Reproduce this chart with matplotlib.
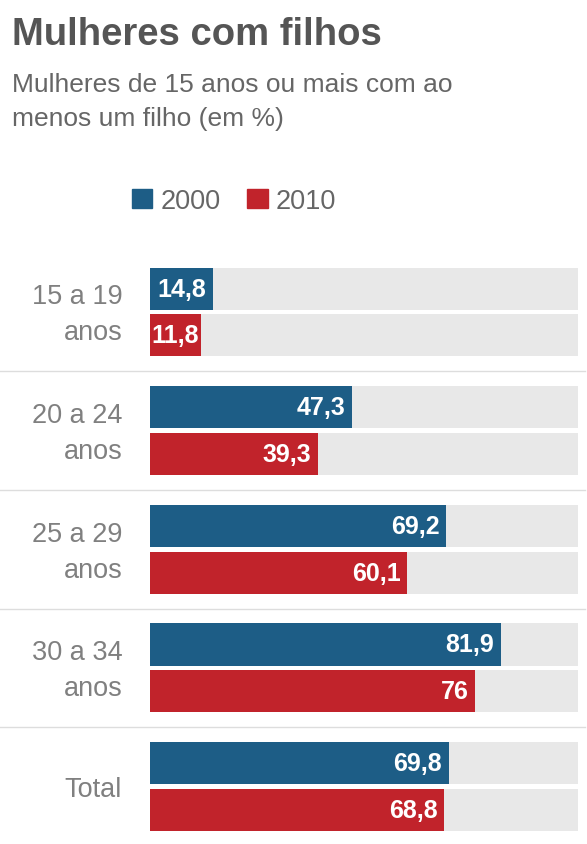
import numpy as np
import matplotlib
matplotlib.use("Agg")
import matplotlib.pyplot as plt
from matplotlib.patches import Patch

plt.rcParams['font.family'] = ['Liberation Sans', 'DejaVu Sans']

categories = ['15 a 19\nanos', '20 a 24\nanos', '25 a 29\nanos', '30 a 34\nanos', 'Total']
values_2000 = [14.8, 47.3, 69.2, 81.9, 69.8]
values_2010 = [11.8, 39.3, 60.1, 76.0, 68.8]
labels_2000 = ['14,8', '47,3', '69,2', '81,9', '69,8']
labels_2010 = ['11,8', '39,3', '60,1', '76', '68,8']
series = ['2000', '2010']

blue = '#1d5d86'
red = '#c1232b'
bg = '#e8e8e8'
grey_text = '#808080'

W, H = 587, 845
fig = plt.figure(figsize=(W / 100, H / 100), dpi=100)
ax = fig.add_axes([150 / W, 0, 428 / W, 593 / H])

y = np.arange(len(categories))
off = 0.197
bh = 0.355

ax.barh(y - off, [100] * len(y), height=bh, color=bg, zorder=1)
ax.barh(y + off, [100] * len(y), height=bh, color=bg, zorder=1)
ax.barh(y - off, values_2000, height=bh, color=blue, zorder=2)
ax.barh(y + off, values_2010, height=bh, color=red, zorder=2)

pad = 1.6
for i in range(len(y)):
    ax.text(values_2000[i] - pad, y[i] - off, labels_2000[i], ha='right', va='center',
            color='white', fontsize=18, fontweight='bold', zorder=3)
    ax.text(values_2010[i] - (0.4 if values_2010[i] < 15 else pad), y[i] + off, labels_2010[i],
            ha='right', va='center', color='white', fontsize=18, fontweight='bold', zorder=3)
    ax.text(-6.5, y[i] + 0.02, categories[i], ha='right', va='center', multialignment='right',
            color=grey_text, fontsize=19.5, linespacing=1.5, clip_on=False)

# separators between groups
tr = ax.get_yaxis_transform()
for s in y[:-1] + 0.5:
    ax.plot([-150 / 428, 585 / 428 - 150 / 428], [s, s], transform=tr, color='#dddddd',
            lw=1, clip_on=False, zorder=0)
ax.axvline(-0.5, color='#dddddd', lw=1, zorder=0)

ax.set_xlim(0, 100)
ax.set_ylim(len(y) - 1 + 0.485, -0.514)
ax.axis('off')

fig.text(12 / W, 1 - 45 / H, 'Mulheres com filhos', fontsize=27.5, fontweight='bold',
         color='#555555', va='baseline', ha='left')
fig.text(12 / W, 1 - 92 / H, 'Mulheres de 15 anos ou mais com ao', fontsize=19,
         color='#666666', va='baseline', ha='left')
fig.text(12 / W, 1 - 126 / H, 'menos um filho (em %)', fontsize=19,
         color='#666666', va='baseline', ha='left')

handles = [Patch(color=blue), Patch(color=red)]
fig.legend(handles, series, loc='center', bbox_to_anchor=(234 / W, 1 - 202 / H), ncol=2,
           frameon=False, fontsize=19.5, handlelength=0.75, handleheight=0.75,
           handletextpad=0.3, columnspacing=1.0, labelcolor='#666666', borderpad=0)

fig.savefig('out.png', dpi=100)
